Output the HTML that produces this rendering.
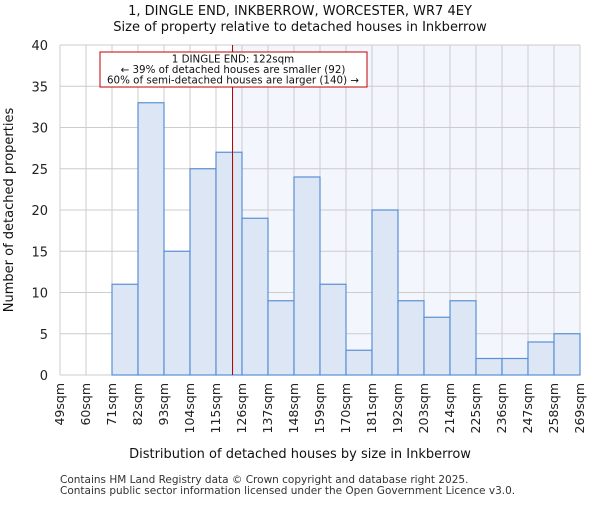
<!DOCTYPE html>
<html><head><meta charset="utf-8"><style>
body{margin:0;background:#fff}
text{font-family:"DejaVu Sans","Liberation Sans",sans-serif}
</style></head><body>
<svg id="c" width="600" height="500" xmlns="http://www.w3.org/2000/svg"></svg>
<script>
const categories=["49sqm","60sqm","71sqm","82sqm","93sqm","104sqm","115sqm","126sqm","137sqm","148sqm","159sqm","170sqm","181sqm","192sqm","203sqm","214sqm","225sqm","236sqm","247sqm","258sqm","269sqm"];
const binStarts=[49,60,71,82,93,104,115,126,137,148,159,170,181,192,203,214,225,236,247,258];
const counts=[0,0,11,33,15,25,27,19,9,24,11,3,20,9,7,9,2,2,4,5];
const yTicks=[0,5,10,15,20,25,30,35,40];
const marker=122;
const NS="http://www.w3.org/2000/svg",svg=document.getElementById('c');
const X0=60,X1=580,Y0=375,Y1=45,xmin=49,xmax=269,ymax=40;
const xs=v=>X0+(v-xmin)/(xmax-xmin)*(X1-X0);
const ys=v=>Y0-v/ymax*(Y0-Y1);
function el(t,a,txt){const e=document.createElementNS(NS,t);for(const k in a)e.setAttribute(k,a[k]);if(txt!=null)e.textContent=txt;svg.appendChild(e);return e;}
let e;
e=el('rect',{x:xs(marker),y:Y1,width:X1-xs(marker),height:Y0-Y1,fill:'#f3f6fd'});

for(let i=0;i<categories.length;i++){const x=xs(xmin+i*11);
e=el('line',{x1:x,x2:x,y1:Y1,y2:Y0,stroke:'#cccccc','stroke-width':1});
}
yTicks.forEach(t=>{
e=el('line',{x1:X0,x2:X1,y1:ys(t),y2:ys(t),stroke:'#cccccc','stroke-width':1});

e=el('text',{x:X0-12,y:ys(t)+5,'text-anchor':'end','font-size':13,fill:'#222'},t);

});
binStarts.forEach((b,i)=>{if(counts[i]<=0)return;
e=el('rect',{x:xs(b),y:ys(counts[i]),width:xs(b+11)-xs(b),height:Y0-ys(counts[i]),fill:'#dce6f4',stroke:'#5b8fd6','stroke-width':1.2});
});
categories.forEach((c,i)=>{const x=xs(xmin+i*11);
e=el('text',{x:x+4,y:Y0+8,'text-anchor':'end','font-size':12.5,fill:'#222',transform:`rotate(-90 ${x+4} ${Y0+8})`},c);
});
e=el('line',{x1:xs(marker),x2:xs(marker),y1:Y1,y2:Y0,stroke:'#aa0000','stroke-width':1});

e=el('rect',{x:100,y:52,width:267,height:35,fill:'#fff',stroke:'#c00000','stroke-width':1});

["1 DINGLE END: 122sqm","← 39% of detached houses are smaller (92)","60% of semi-detached houses are larger (140) →"].forEach((t,i)=>{
e=el('text',{x:233,y:62.5+i*10.5,'text-anchor':'middle','font-size':10.3,fill:'#111'},t);
});
e=el('text',{x:300,y:15,'text-anchor':'middle','font-size':13,fill:'#111'},"1, DINGLE END, INKBERROW, WORCESTER, WR7 4EY");

e=el('text',{x:300,y:31,'text-anchor':'middle','font-size':13,fill:'#111'},"Size of property relative to detached houses in Inkberrow");

e=el('text',{x:300,y:458,'text-anchor':'middle','font-size':13,fill:'#111'},"Distribution of detached houses by size in Inkberrow");

e=el('text',{x:13,y:210,'text-anchor':'middle','font-size':13,fill:'#111',transform:'rotate(-90 13 210)'},"Number of detached properties");

e=el('text',{x:60,y:483,'font-size':10.5,fill:'#333'},"Contains HM Land Registry data © Crown copyright and database right 2025.");

e=el('text',{x:60,y:494,'font-size':10.5,fill:'#333'},"Contains public sector information licensed under the Open Government Licence v3.0.");

</script></body></html>
